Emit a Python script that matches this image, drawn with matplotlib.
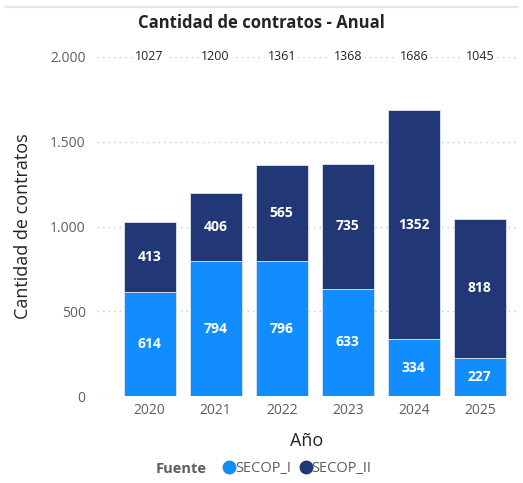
import numpy as np
import matplotlib.pyplot as plt
from matplotlib.lines import Line2D

plt.rcParams['font.family'] = ['Open Sans', 'DejaVu Sans']

years = ['2020', '2021', '2022', '2023', '2024', '2025']
secop_1 = [614, 794, 796, 633, 334, 227]
secop_2 = [413, 406, 565, 735, 1352, 818]
totals = [1027, 1200, 1361, 1368, 1686, 1045]

c1 = '#118DFF'
c2 = '#223876'
grey = '#605E5C'

fig = plt.figure(figsize=(5.23, 4.83), dpi=100)
ax = fig.add_axes([0.185, 0.18, 0.802, 0.702])

x = np.arange(len(years))
w = 0.79
ax.bar(x, secop_1, w, color=c1, edgecolor='#dde3ee', linewidth=0.6, zorder=3)
ax.bar(x, secop_2, w, bottom=secop_1, color=c2, edgecolor='#dde3ee', linewidth=0.6, zorder=3)

for i in range(len(years)):
    ax.text(x[i], secop_1[i] / 2, str(secop_1[i]), ha='center', va='center',
            color='white', fontsize=10, fontweight='bold', zorder=4)
    ax.text(x[i], secop_1[i] + secop_2[i] / 2, str(secop_2[i]), ha='center', va='center',
            color='white', fontsize=10, fontweight='bold', zorder=4)
    ax.text(x[i], 2000, str(totals[i]), ha='center', va='center', color='#252423',
            fontsize=9, zorder=4,
            bbox=dict(facecolor='white', edgecolor='none', pad=1.5))

ax.set_xlim(-0.8, 5.55)
ax.set_ylim(0, 2000)
ax.set_yticks([0, 500, 1000, 1500, 2000])
ax.set_yticklabels(['0', '500', '1.000', '1.500', '2.000'])
ax.set_xticks(x)
ax.set_xticklabels(years)
ax.grid(axis='y', color='#c8c6c4', linestyle=(0, (1, 3)), linewidth=1, zorder=0)
for s in ax.spines.values():
    s.set_visible(False)
ax.tick_params(length=0, colors=grey, labelsize=10, pad=8)
ax.tick_params(axis='x', pad=5)

ax.set_ylabel('Cantidad de contratos', fontsize=13, color='#252423', labelpad=13)
ax.set_xlabel('Año', fontsize=13, color='#252423', labelpad=10)

fig.text(0.5, 0.953, 'Cantidad de contratos - Anual', ha='center', va='center',
         fontsize=12, fontweight='bold', color='#252423')
fig.add_artist(Line2D([0.01, 0.99], [0.985, 0.985], color='#e6e6e6', linewidth=1.5))

handles = [Line2D([], [], marker='o', linestyle='none', markersize=9, color=c1),
           Line2D([], [], marker='o', linestyle='none', markersize=9, color=c2)]
leg = fig.legend(handles, ['SECOP_I', 'SECOP_II'], loc='center', bbox_to_anchor=(0.566, 0.03),
                 ncol=2, frameon=False, fontsize=10.5, handletextpad=-0.2, columnspacing=0.4,
                 handlelength=1.2)
for t in leg.get_texts():
    t.set_color(grey)
fig.text(0.395, 0.03, 'Fuente', ha='right', va='center', fontsize=10.5,
         fontweight='bold', color=grey)

fig.savefig('out.png', dpi=100)
